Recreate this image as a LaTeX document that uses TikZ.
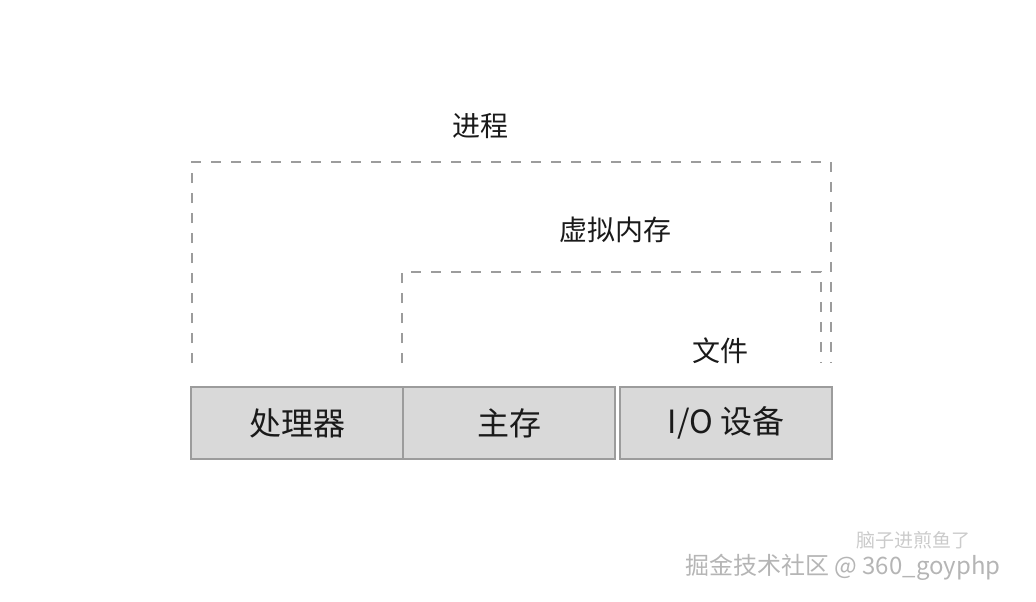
\documentclass[tikz,border=0pt]{standalone}
\usepackage{fontspec}
\setmainfont{Noto Sans CJK SC}
\usetikzlibrary{positioning}
\definecolor{relleno}{HTML}{D9D9D9}
\definecolor{borde}{HTML}{9C9C9C}
\definecolor{tinta}{HTML}{1A1A1A}
\definecolor{marca}{HTML}{B5B5B5}
\begin{document}
\begin{tikzpicture}[x=1pt,y=-1pt,
          caja/.style={draw=borde,fill=relleno,line width=1.5pt,outer sep=0pt,inner sep=0pt,
                       minimum width=212pt,minimum height=72pt,text=tinta,font=\fontsize{32}{36}\selectfont},
          capa/.style={inner sep=0pt,text=tinta,font=\fontsize{28}{32}\selectfont},
          tramo/.style={draw=borde,line width=2.2pt,dash pattern=on 10pt off 10pt},
          sello/.style={inner sep=0pt,text=marca,font=\fontsize{24}{27}\selectfont},
          node distance=0pt and 0pt]
        \useasboundingbox (0,0) rectangle (1036,602);
        \node[caja] (cpu) at (297,423) {处理器};
        \node[caja,right=0pt of cpu] (mem) {主存};
        \node[caja,right=5pt of mem] (io) {I/O 设备};
        % capas punteadas encima de los recursos
        \draw[tramo] (192,363) -- (192,162) -- (831,162) -- (831,363);
        \draw[tramo] (402,363) -- (402,272) -- (821,272) -- (821,363);
        \node[capa] (proceso) at (480,126) {进程};
        \node[capa] (virtual) at (615,230) {虚拟内存};
        \node[capa] (archivo) at (720,351) {文件};
        % marcas de agua
        \node[sello,anchor=west] (sitio) at (685,567) {掘金技术社区 @ 360\_goyphp};
        \node[sello,anchor=west,font=\fontsize{19}{22}\selectfont,text=marca!70] (autor) at (856,540) {脑子进煎鱼了};
      \end{tikzpicture}
\end{document}
